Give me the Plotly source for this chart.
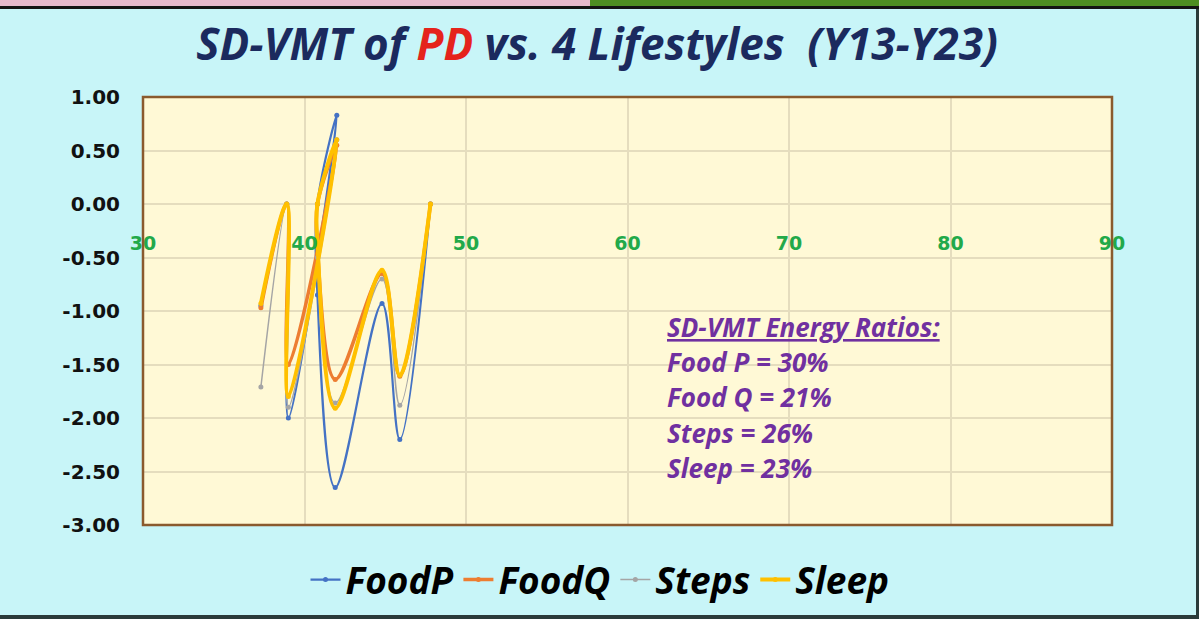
import plotly.graph_objects as go

# x positions shared by all four series (in plotted order)
x_vals = [37.3, 38.9, 39.0, 42.0, 40.8, 40.8, 41.9, 44.8, 45.9, 47.8]

food_p = [-0.95, 0.0, -2.00, 0.83, 0.0, -0.85, -2.65, -0.93, -2.20, 0.0]
food_q = [-0.97, 0.0, -1.50, 0.55, 0.0, -0.40, -1.64, -0.65, -1.61, 0.0]
steps = [-1.71, 0.0, -1.90, 0.60, 0.0, -0.50, -1.86, -0.70, -1.88, 0.0]
sleep = [-0.93, 0.0, -1.80, 0.60, 0.0, -0.35, -1.91, -0.62, -1.60, 0.0]

series_names = ["FoodP", "FoodQ", "Steps", "Sleep"]
ratio_labels = ["Food P = 30%", "Food Q = 21%", "Steps = 26%", "Sleep = 23%"]
x_ticks = [30, 40, 50, 60, 70, 80, 90]
y_ticks = [1.0, 0.5, 0.0, -0.5, -1.0, -1.5, -2.0, -2.5, -3.0]

W, H = 1199, 619
L, R, T, B = 143, 1112, 97, 525


def px(x):
    return (x - L) / (R - L)


def py(y):
    return (B - y) / (B - T)


fig = go.Figure()

styles = [
    dict(color="#4472C4", width=2.2),
    dict(color="#ED7D31", width=3.5),
    dict(color="#A5A5A5", width=1.5),
    dict(color="#FFC000", width=4),
]
for name, ys, st in zip(series_names, [food_p, food_q, steps, sleep], styles):
    fig.add_trace(go.Scatter(
        x=x_vals, y=ys, name=name,
        mode="lines+markers",
        line=dict(color=st["color"], width=st["width"], shape="spline", smoothing=1),
        marker=dict(color=st["color"], size=5),
    ))

font_title = dict(family="Open Sans", size=44, color="#1B2A5E", weight="bold", style="italic")
purple = "#7030A0"
note_font = dict(family="Open Sans", size=26, color=purple, weight="bold", style="italic")

annotations = [dict(
    x=px(665), y=py(327), xref="paper", yref="paper", xanchor="left", yanchor="middle",
    text="<u>SD-VMT Energy Ratios:</u>", showarrow=False, font=note_font,
)]
for i, lab in enumerate(ratio_labels):
    annotations.append(dict(
        x=px(665), y=py(362 + 35.3 * i), xref="paper", yref="paper",
        xanchor="left", yanchor="middle", text=lab, showarrow=False, font=note_font,
    ))

shapes = [
    # plot area border
    dict(type="rect", xref="paper", yref="paper", x0=0, x1=1, y0=0, y1=1,
         line=dict(color="#8A5A2E", width=2.5), layer="above"),
    # window strip at top
    dict(type="rect", xref="paper", yref="paper", x0=px(0), x1=px(590), y0=py(0), y1=py(6),
         fillcolor="#E7B9CC", line=dict(width=0)),
    dict(type="rect", xref="paper", yref="paper", x0=px(590), x1=px(W), y0=py(0), y1=py(6),
         fillcolor="#4E8E22", line=dict(width=0)),
    dict(type="rect", xref="paper", yref="paper", x0=px(0), x1=px(W), y0=py(6), y1=py(9),
         fillcolor="#141414", line=dict(width=0)),
    dict(type="rect", xref="paper", yref="paper", x0=px(0), x1=px(W), y0=py(615), y1=py(H),
         fillcolor="#2A3A3A", line=dict(width=0)),
    dict(type="rect", xref="paper", yref="paper", x0=px(1196), x1=px(W), y0=py(H), y1=py(9),
         fillcolor="#2A3A3A", line=dict(width=0)),
]

fig.update_layout(
    width=W, height=H,
    margin=dict(l=L, r=W - R, t=T, b=H - B, autoexpand=False),
    paper_bgcolor="#C8F5F8",
    plot_bgcolor="#FFF9D6",
    title=dict(
        text="SD-VMT of <span style='color:#E5231B'>PD</span> vs. 4 Lifestyles&nbsp;&nbsp;(Y13-Y23)",
        x=0.498, xref="container", xanchor="center", y=1 - 45 / H, yanchor="middle",
        font=font_title,
    ),
    xaxis=dict(
        range=[30, 90], tickvals=x_ticks, ticktext=[str(v) for v in x_ticks],
        showgrid=True, gridcolor="#E5DDBE", gridwidth=1.5,
        zeroline=False, showline=False,
        anchor="free", position=py(204),
        ticks="", ticklabelstandoff=26,
        tickfont=dict(family="DejaVu Sans", size=19, color="#22A94A", weight="bold"),
    ),
    yaxis=dict(
        range=[-3, 1], tickvals=y_ticks, ticktext=[f"{v:.2f}" for v in y_ticks],
        showgrid=True, gridcolor="#E5DDBE", gridwidth=1.5,
        zeroline=False, showline=False,
        ticks="", ticklabelstandoff=22,
        tickfont=dict(family="DejaVu Sans", size=20, color="#111111", weight="bold"),
    ),
    legend=dict(
        orientation="h", x=px(600), xanchor="center", y=py(580), yanchor="middle",
        bgcolor="rgba(0,0,0,0)",
        font=dict(family="Open Sans", size=37, color="#000000", weight="bold", style="italic"),
        itemwidth=30, tracegroupgap=0,
    ),
    showlegend=True,
    annotations=annotations,
    shapes=shapes,
)

fig.write_html(
    "out.html",
    config={"displayModeBar": False},
    post_script="document.body.style.margin='0';document.body.style.overflow='hidden';",
)
